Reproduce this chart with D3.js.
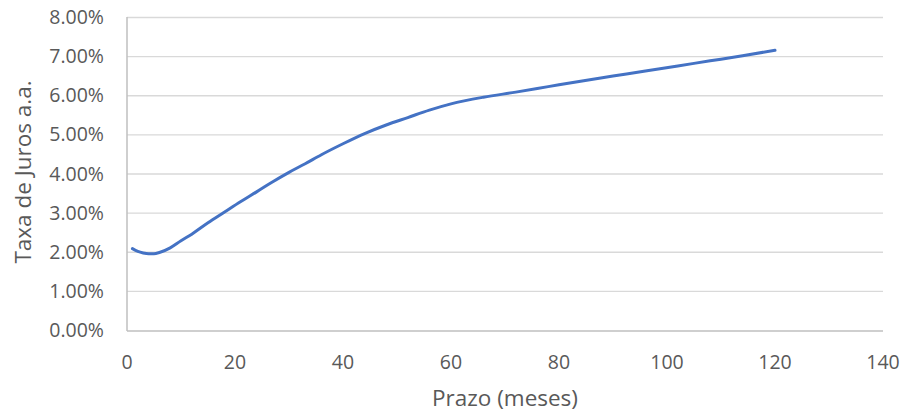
<!DOCTYPE html>
<html>
<head>
<meta charset="utf-8">
<script src="https://cdn.jsdelivr.net/npm/d3@7"></script>
<style>
  body { margin: 0; background: #fff; }
  text { font-family: "Open Sans", "Noto Sans", sans-serif; fill: #595959; }
</style>
</head>
<body>
<svg id="chart" width="906" height="415"></svg>
<script>
// prazo em meses e taxa (% a.a.)
var meses = [1, 2, 3, 4, 5, 6, 8, 10, 12, 15, 18, 21, 24, 27, 30, 33, 36, 40, 44, 48,
             52, 56, 60, 66, 72, 78, 84, 90, 96, 102, 108, 114, 120]
var taxas = [2.08, 2.01, 1.97, 1.95, 1.95, 1.98, 2.10, 2.28, 2.45, 2.74, 3.01, 3.28, 3.53,
             3.79, 4.03, 4.25, 4.48, 4.76, 5.02, 5.24, 5.43, 5.62, 5.78, 5.95, 6.08, 6.22,
             6.36, 6.49, 6.62, 6.75, 6.88, 7.01, 7.15]
var xTicks = [0, 20, 40, 60, 80, 100, 120, 140]
var yTicks = [0, 1, 2, 3, 4, 5, 6, 7, 8]

var svg = d3.select("#chart")
var plotL = 127, plotR = 883, plotT = 17, plotB = 330

var x = d3.scaleLinear().domain([0, 140]).range([plotL, plotR])
var y = d3.scaleLinear().domain([0, 8]).range([plotB, plotT])

// linhas de grade
svg.append("g").selectAll("line")
  .data(yTicks.filter(function(d) { return d > 0 }))
  .enter().append("line")
    .attr("x1", plotL).attr("x2", plotR)
    .attr("y1", function(d) { return y(d) + 0.5 })
    .attr("y2", function(d) { return y(d) + 0.5 })
    .attr("stroke", "#d9d9d9").attr("stroke-width", 1.3)

// eixos
svg.append("line")
  .attr("x1", plotL).attr("x2", plotL).attr("y1", plotT).attr("y2", plotB + 1)
  .attr("stroke", "#bfbfbf").attr("stroke-width", 1.5)
svg.append("line")
  .attr("x1", plotL).attr("x2", plotR).attr("y1", plotB + 1).attr("y2", plotB + 1)
  .attr("stroke", "#bfbfbf").attr("stroke-width", 1.5)

// rotulos do eixo y
svg.append("g").selectAll("text")
  .data(yTicks)
  .enter().append("text")
    .attr("x", 104)
    .attr("y", function(d) { return y(d) + 7 })
    .attr("text-anchor", "end")
    .style("font-size", "19.5px")
    .text(function(d) { return d.toFixed(2) + "%" })

// rotulos do eixo x
svg.append("g").selectAll("text")
  .data(xTicks)
  .enter().append("text")
    .attr("x", function(d) { return x(d) })
    .attr("y", 369)
    .attr("text-anchor", "middle")
    .style("font-size", "19.5px")
    .text(function(d) { return d })

// titulos
svg.append("text")
  .attr("x", (plotL + plotR) / 2).attr("y", 406)
  .attr("text-anchor", "middle")
  .style("font-size", "22.5px")
  .text("Prazo (meses)")
svg.append("text")
  .attr("transform", "translate(31," + 172 + ") rotate(-90)")
  .attr("text-anchor", "middle")
  .style("font-size", "22.5px")
  .text("Taxa de Juros a.a.")

// curva
var pts = meses.map(function(m, i) { return [m, taxas[i]] })
var line = d3.line()
  .x(function(d) { return x(d[0]) })
  .y(function(d) { return y(d[1]) })
  .curve(d3.curveMonotoneX)

svg.append("path")
  .datum(pts)
  .attr("d", line)
  .attr("fill", "none")
  .attr("stroke", "#4472c4")
  .attr("stroke-width", 3)
  .attr("stroke-linecap", "round")
</script>
</body>
</html>
